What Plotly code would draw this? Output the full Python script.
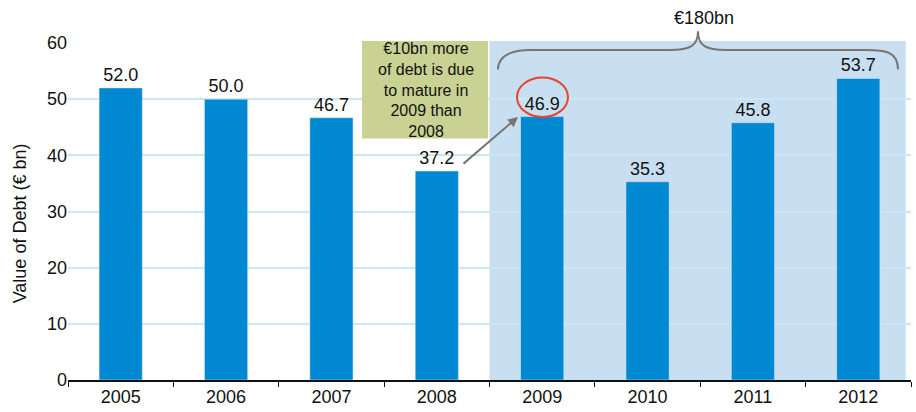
import plotly.graph_objects as go

years = ["2005", "2006", "2007", "2008", "2009", "2010", "2011", "2012"]
debt = [52.0, 50.0, 46.7, 37.2, 46.9, 35.3, 45.8, 53.7]
y_ticks = [0, 10, 20, 30, 40, 50, 60]
box_lines = ["€10bn more", "of debt is due", "to mature in", "2009 than", "2008"]

FONT = "Liberation Sans, Arial, sans-serif"
BAR = "#0088d2"
SHADE = "#c8dff2"
GRID = "#cce6f3"
FS = 18

# plot area in pixels
L, R, T, B = 68, 5, 43, 27
W, H = 916, 412
PW, PH = W - L - R, H - T - B


def px(x):
    return (x - L) / PW


def py(y):
    return (H - B - y) / PH


fig = go.Figure()
fig.add_trace(go.Bar(
    x=years, y=debt, marker_color=BAR, width=0.41,
    texttemplate="%{y:.1f}", textposition="outside",
    textfont=dict(size=FS, color="#111"), cliponaxis=False,
    hoverinfo="skip",
))

shapes = []
# shaded forecast region
shapes.append(dict(type="rect", xref="x", yref="paper", x0=3.5, x1=7.45,
                   y0=0, y1=py(41), fillcolor=SHADE, line_width=0, layer="below"))
# annotation box
shapes.append(dict(type="rect", xref="paper", yref="paper", x0=px(362), x1=px(488),
                   y0=py(140), y1=py(41), fillcolor="#c9d292", line_width=0, layer="above"))
# red ellipse
shapes.append(dict(type="circle", xref="paper", yref="paper", x0=px(517), x1=px(568),
                   y0=py(118), y1=py(78), line=dict(color="#e8432c", width=2)))
# brace
def P(p):
    return f"{px(p[0]):.5f},{py(p[1]):.5f}"
path = (f"M {P((498,70))} C {P((498,52))} {P((520,50))} {P((530,50))} "
        f"L {P((670,50))} C {P((690,50))} {P((698,46))} {P((698,31))} "
        f"C {P((698,46))} {P((706,50))} {P((726,50))} "
        f"L {P((866,50))} C {P((886,50))} {P((898,52))} {P((898,70))}")
shapes.append(dict(type="path", xref="paper", yref="paper", path=path,
                   line=dict(color="#7a7470", width=2)))

annotations = [
    dict(xref="paper", yref="paper", x=px(426), y=py(91),
         xanchor="center", yanchor="middle", showarrow=False,
         text="<br>".join(box_lines), align="center",
         font=dict(size=16, color="#111", family=FONT)),
    dict(xref="paper", yref="paper", x=px(704), y=py(18), xanchor="center",
         yanchor="middle", showarrow=False,
         text="€180bn", font=dict(size=FS, color="#111", family=FONT)),
    dict(xref="paper", yref="paper", x=px(20), y=py(226), xanchor="center",
         yanchor="middle", showarrow=False,
         text="Value of Debt (€ bn)", textangle=-90,
         font=dict(size=FS, color="#111", family=FONT)),
    dict(xref="paper", yref="paper", x=px(518), y=py(118), ax=462 - 518, ay=166 - 118,
         axref="pixel", ayref="pixel", showarrow=True, arrowhead=2, arrowsize=1,
         arrowwidth=2, arrowcolor="#7a7470", text=""),
]

fig.update_layout(
    width=W, height=H, margin=dict(l=L, r=R, t=T, b=B),
    paper_bgcolor="white", plot_bgcolor="white",
    font=dict(family=FONT, size=FS, color="#111"),
    showlegend=False, shapes=shapes, annotations=annotations,
    xaxis=dict(type="category", showgrid=False, showline=True, linecolor="#111",
               linewidth=1.5, ticks="outside", tickson="boundaries", ticklen=5,
               tickcolor="#111", tickfont=dict(size=FS), range=[-0.5, 7.5]),
    yaxis=dict(range=[0, 60], tickvals=y_ticks, showgrid=True, gridcolor=GRID,
               gridwidth=1.5, zeroline=False, showline=False, ticks="",
               tickfont=dict(size=FS)),
)

fig.write_html("out.html")
